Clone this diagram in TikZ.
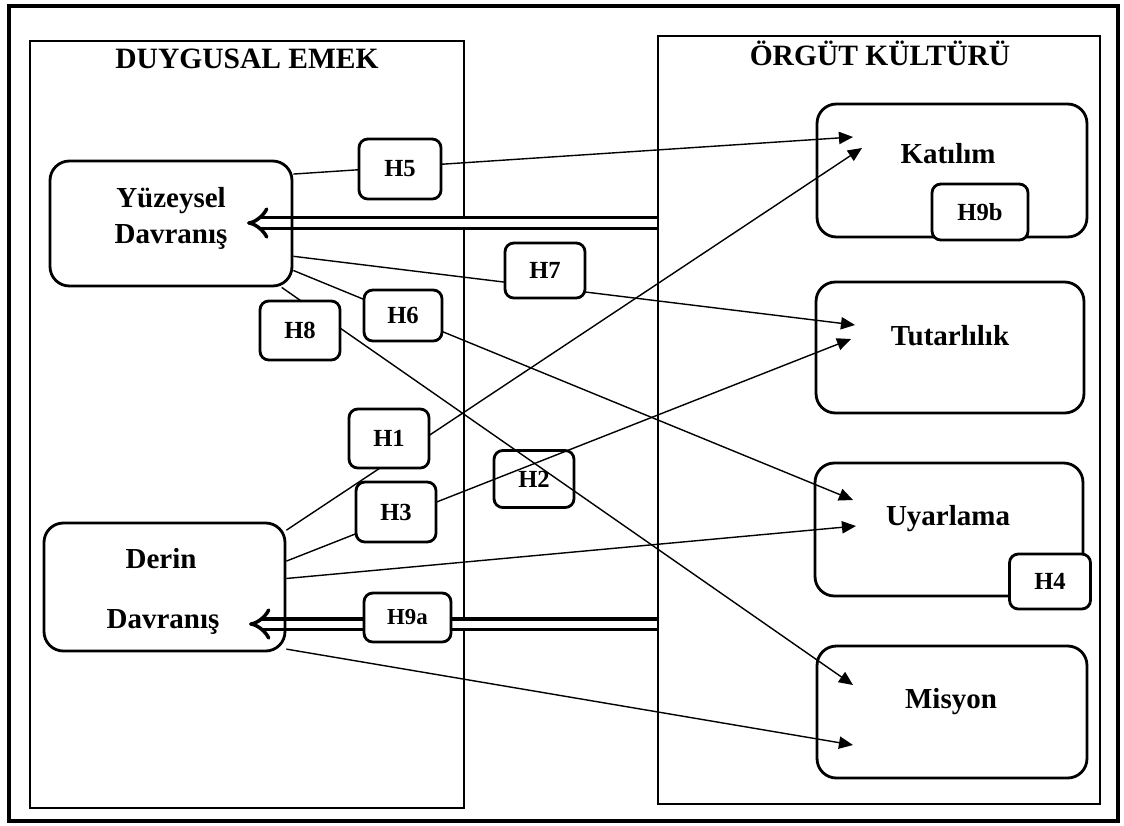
\documentclass[tikz,border=0pt]{standalone}
\usepackage{fontspec}
\setmainfont{Liberation Serif}
\usetikzlibrary{arrows.meta}

\tikzset{
  panel/.style={draw, line width=0.9pt, inner sep=0pt},
  rbox/.style={draw, rounded corners=11pt, line width=1.6pt, inner sep=0pt},
  hbox/.style={draw, rounded corners=5pt, line width=1.6pt, fill=white, inner sep=0pt,
    minimum width=1.6cm, minimum height=1.14cm, font=\fontsize{14}{16}\selectfont\bfseries},
  ttl/.style={anchor=base, font=\fontsize{16.8}{20}\selectfont\bfseries},
  lbl/.style={anchor=base, font=\fontsize{16.5}{20}\selectfont\bfseries},
  conn/.style={line width=0.8pt, -{Triangle[length=8pt,width=7pt]}},
  dbl/.style={double, double distance=4pt, line width=2pt, -{Implies}}
}

\begin{document}
\begin{tikzpicture}[x=0.02cm, y=-0.02cm]
  \useasboundingbox (0,0) rectangle (1124,825);

  % frame and the two panels
  \draw[line width=1.8pt] (9,6) rectangle (1118,821);
  \node[panel, minimum width=8.68cm, minimum height=15.34cm] (emek) at (247,424.5) {};
  \node[panel, minimum width=8.84cm, minimum height=15.36cm] (kultur) at (879,420) {};
  \node[ttl] (emekT) at (247,68) {DUYGUSAL EMEK};
  \node[ttl] (kulturT) at (880,65) {ÖRGÜT KÜLTÜRÜ};

  % double arrows from the culture panel
  \coordinate (yzTip) at (247,223);
  \coordinate (drTip) at (249,624);
  \draw[dbl] (kultur.west |- yzTip) -- (yzTip);
  \draw[dbl] (kultur.west |- drTip) -- (drTip);

  % left boxes
  \node[rbox, minimum width=4.84cm, minimum height=2.5cm] (yuzey) at (171,223.5) {};
  \node[lbl] (yuzeyA) at (171,207) {Yüzeysel};
  \node[lbl] (yuzeyB) at (171,243) {Davranış};
  \node[rbox, minimum width=4.82cm, minimum height=2.56cm] (derin) at (164.5,587) {};
  \node[lbl] (derinA) at (161,568) {Derin};
  \node[lbl] (derinB) at (163,628) {Davranış};

  % right boxes
  \node[rbox, minimum width=5.4cm, minimum height=2.66cm] (katilim) at (952,170.5) {};
  \node[lbl] (katilimT) at (948,163) {Katılım};
  \node[rbox, minimum width=5.36cm, minimum height=2.62cm] (tutar) at (950,347.5) {};
  \node[lbl] (tutarT) at (950,345) {Tutarlılık};
  \node[rbox, minimum width=5.36cm, minimum height=2.66cm] (uyarla) at (949,529.5) {};
  \node[lbl] (uyarlaT) at (948,525) {Uyarlama};
  \node[rbox, minimum width=5.4cm, minimum height=2.64cm] (misyon) at (952,712) {};
  \node[lbl] (misyonT) at (951,708) {Misyon};

  % arrow ends inside the right boxes
  \coordinate (kat1) at (853,137);
  \coordinate (kat2) at (862,148);
  \coordinate (tut1) at (855,325);
  \coordinate (tut2) at (851,339);
  \coordinate (uya1) at (853,500);
  \coordinate (uya2) at (856,526);
  \coordinate (mis1) at (853,685);
  \coordinate (mis2) at (853,745);

  \draw[conn] (yuzey.22) -- (kat1);
  \draw[conn] (yuzey.-15.5) -- (tut1);
  \draw[conn] (yuzey.-21.4) -- (uya1);
  \draw[conn] (yuzey.-30) -- (mis1);
  \draw[conn] (derin.25.3) -- (kat2);
  \draw[conn] (derin.12.6) -- (tut2);
  \draw[conn] (derin.4.3) -- (uya2);
  \draw[conn] (derin.-27) -- (mis2);

  % hypothesis labels
  \node[hbox, minimum width=1.64cm, minimum height=1.2cm] (h5) at (400,169) {H5};
  \node[hbox, minimum height=1.1cm] (h7) at (545,270.5) {H7};
  \node[hbox, minimum width=1.56cm, minimum height=1.02cm] (h6) at (403,315.5) {H6};
  \node[hbox, minimum height=1.18cm] (h8) at (300,330.5) {H8};
  \node[hbox, minimum height=1.18cm] (h1) at (389,438.5) {H1};
  \node[hbox, fill=none] (h2) at (534,479) {H2};
  \node[hbox, minimum height=1.2cm] (h3) at (396,512) {H3};
  \node[hbox, minimum width=1.74cm, minimum height=0.98cm, font=\fontsize{13}{15}\selectfont\bfseries] (h9a) at (407.5,617.5) {H9a};
  \node[hbox, minimum width=1.92cm, minimum height=1.12cm] (h9b) at (980,212) {H9b};
  \node[hbox, minimum width=1.62cm, minimum height=1.1cm] (h4) at (1050,581.5) {H4};
\end{tikzpicture}
\end{document}
